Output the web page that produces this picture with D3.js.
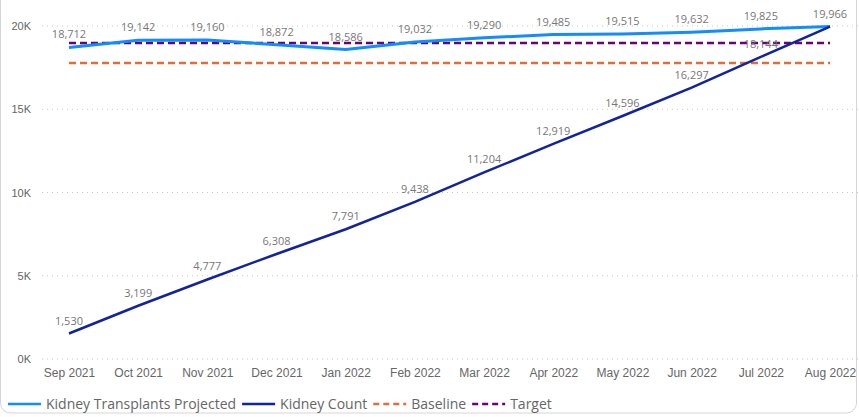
<!DOCTYPE html>
<html>
<head>
<meta charset="utf-8">
<script src="https://cdn.jsdelivr.net/npm/d3@7"></script>
<style>
    body { margin: 0; background: #fff; }
    svg { display: block; font-family: "Open Sans", "DejaVu Sans", sans-serif; }
</style>
</head>
<body>
<svg></svg>
<script>
var months = ["Sep 2021", "Oct 2021", "Nov 2021", "Dec 2021", "Jan 2022", "Feb 2022",
    "Mar 2022", "Apr 2022", "May 2022", "Jun 2022", "Jul 2022", "Aug 2022"];
var projected = [18712, 19142, 19160, 18872, 18586, 19032, 19290, 19485, 19515, 19632, 19825, 19966];
var kidneyCount = [1530, 3199, 4777, 6308, 7791, 9438, 11204, 12919, 14596, 16297, 18144, 19966];
var baseline = 17780;
var target = 18980;
var yTicks = [0, 5000, 10000, 15000, 20000];

var width = 859;
var height = 417;

var svg = d3.select("svg").attr("width", width).attr("height", height);

// card border (only the bottom part shows)
svg.append("rect")
    .attr("x", 0.5).attr("y", -20)
    .attr("width", width - 3).attr("height", 433)
    .attr("rx", 10)
    .attr("fill", "none")
    .attr("stroke", "#d6d6d6");

var x = d3.scalePoint().domain(months).range([69, 830]);
var y = d3.scaleLinear().domain([0, 20000]).range([359, 26]);

// gridlines
svg.append("g")
    .selectAll("line")
    .data(yTicks)
    .enter()
    .append("line")
    .attr("x1", 42).attr("x2", 859)
    .attr("y1", function (d) { return y(d); })
    .attr("y2", function (d) { return y(d); })
    .attr("stroke", "#c8c8c8")
    .attr("stroke-dasharray", "1,4");

// y axis
var yAxis = svg.append("g")
    .attr("transform", "translate(31,0)")
    .call(d3.axisLeft(y).tickValues(yTicks).tickSize(0).tickPadding(0)
        .tickFormat(function (d) { return (d / 1000) + "K"; }));
yAxis.select(".domain").remove();
yAxis.selectAll("text").attr("fill", "#666").style("font-size", "11px");

// x axis
var xAxis = svg.append("g")
    .attr("transform", "translate(0,364)")
    .call(d3.axisBottom(x).tickSize(0).tickPadding(4));
xAxis.select(".domain").remove();
xAxis.selectAll("text").attr("fill", "#666").style("font-size", "12px");

var line = d3.line()
    .x(function (d, i) { return x(months[i]); })
    .y(function (d) { return y(d); });

// baseline and target
svg.append("line")
    .attr("x1", x(months[0])).attr("x2", x(months[months.length - 1]))
    .attr("y1", y(baseline)).attr("y2", y(baseline))
    .attr("stroke", "#E66C37").attr("stroke-width", 2.5)
    .attr("stroke-dasharray", "7,4");

svg.append("line")
    .attr("x1", x(months[0])).attr("x2", x(months[months.length - 1]))
    .attr("y1", y(target)).attr("y2", y(target))
    .attr("stroke", "#6B007B").attr("stroke-width", 2.5)
    .attr("stroke-dasharray", "7,4");

svg.append("path")
    .datum(projected)
    .attr("d", line)
    .attr("fill", "none")
    .attr("stroke", "#118DFF")
    .attr("stroke-width", 3);

svg.append("path")
    .datum(kidneyCount)
    .attr("d", line)
    .attr("fill", "none")
    .attr("stroke", "#12239E")
    .attr("stroke-width", 2.5);

// data labels
var fmt = d3.format(",");
function labels(values) {
    svg.append("g")
        .selectAll("text")
        .data(values)
        .enter()
        .append("text")
        .attr("x", function (d, i) { return x(months[i]); })
        .attr("y", function (d) { return y(d) - 9; })
        .attr("text-anchor", "middle")
        .attr("fill", "#777")
        .style("font-size", "11px")
        .text(function (d) { return fmt(d); });
}
labels(projected);
labels(kidneyCount.slice(0, kidneyCount.length - 1));

// legend
var legendItems = [
    { label: "Kidney Transplants Projected", color: "#118DFF", dash: null },
    { label: "Kidney Count", color: "#12239E", dash: null },
    { label: "Baseline", color: "#E66C37", dash: "6,4" },
    { label: "Target", color: "#6B007B", dash: "6,4" }
];
var lx = 8;
legendItems.forEach(function (item) {
    var g = svg.append("g").attr("transform", "translate(" + lx + ",404)");
    g.append("line")
        .attr("x1", 0).attr("x2", 33)
        .attr("y1", 0).attr("y2", 0)
        .attr("stroke", item.color)
        .attr("stroke-width", 2.5)
        .attr("stroke-dasharray", item.dash);
    var t = g.append("text")
        .attr("x", 38).attr("y", 5)
        .attr("fill", "#666")
        .style("font-size", "14px")
        .text(item.label);
    lx += 38 + t.node().getComputedTextLength() + 6;
});
</script>
</body>
</html>
